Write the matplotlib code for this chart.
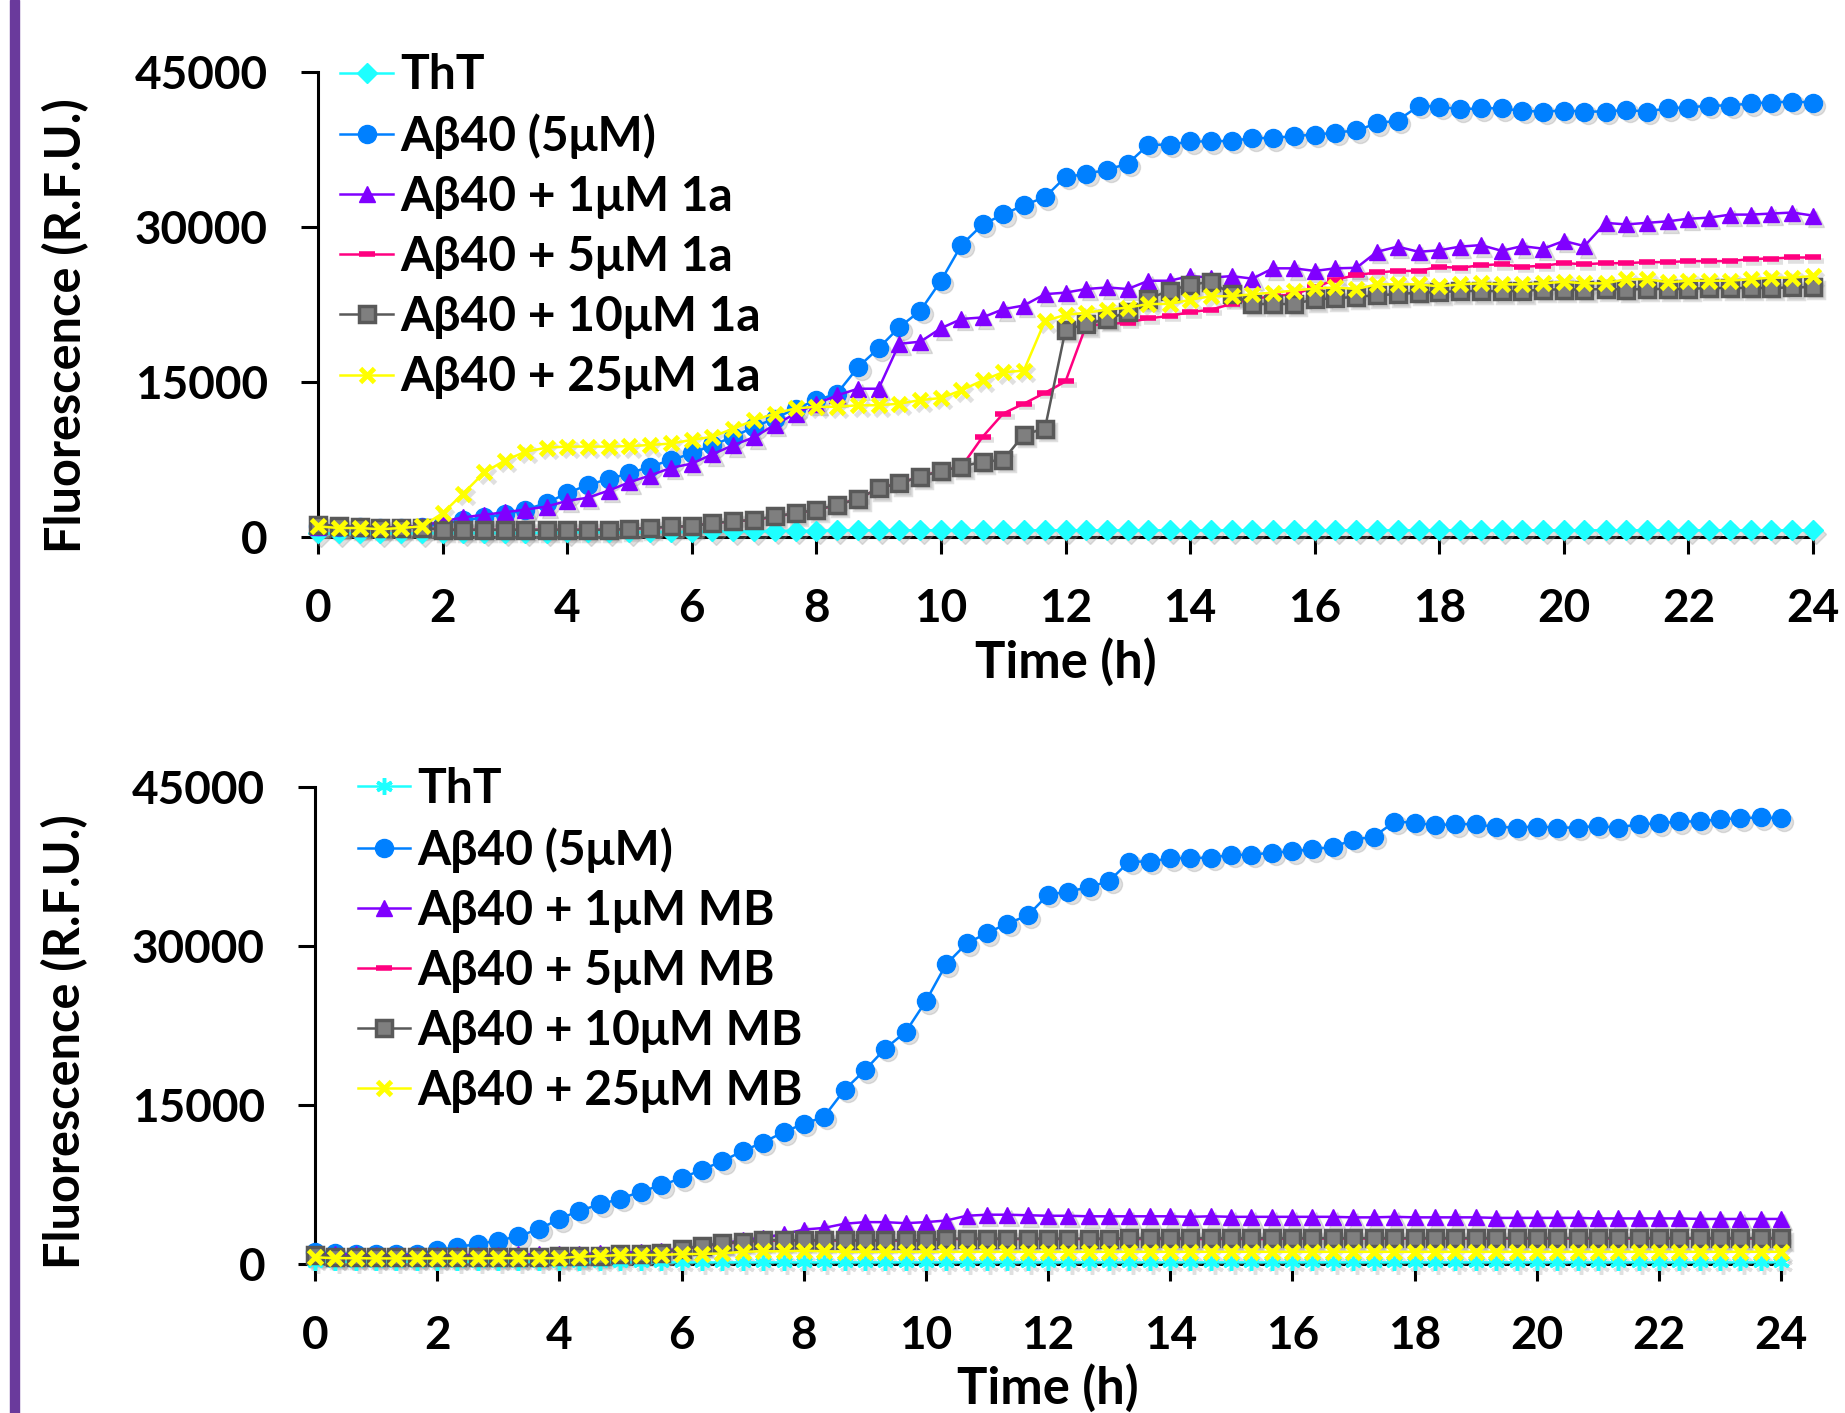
import matplotlib
matplotlib.use("Agg")
import matplotlib.pyplot as plt
from matplotlib.patches import Rectangle
from matplotlib.transforms import ScaledTranslation

plt.rcParams['font.family'] = ['Lato', 'Open Sans', 'DejaVu Sans']
plt.rcParams['font.weight'] = 'bold'

# sampling times (h), one reading every 20 min
hours = [0, 0.33, 0.67, 1, 1.33, 1.67, 2, 2.33, 2.67, 3, 3.33, 3.67,
         4, 4.33, 4.67, 5, 5.33, 5.67, 6, 6.33, 6.67, 7, 7.33, 7.67,
         8, 8.33, 8.67, 9, 9.33, 9.67, 10, 10.33, 10.67, 11, 11.33, 11.67,
         12, 12.33, 12.67, 13, 13.33, 13.67, 14, 14.33, 14.67, 15, 15.33, 15.67,
         16, 16.33, 16.67, 17, 17.33, 17.67, 18, 18.33, 18.67, 19, 19.33, 19.67,
         20, 20.33, 20.67, 21, 21.33, 21.67, 22, 22.33, 22.67, 23, 23.33, 23.67,
         24]

# Abeta40 alone (same control in both panels)
ab40 = [1100, 1000, 950, 900, 900, 950, 1300, 1600, 1900, 2200, 2630, 3300,
        4240, 5040, 5620, 6170, 6810, 7450, 8090, 8890, 9700, 10660, 11460, 12430,
        13230, 13870, 16440, 18270, 20290, 21900, 24790, 28260, 30250, 31210, 32110, 32880,
        34840, 35130, 35550, 36130, 37960, 37960, 38280, 38280, 38340, 38600, 38600, 38820,
        38920, 39140, 39340, 40040, 40300, 41710, 41650, 41390, 41490, 41490, 41230, 41170,
        41260, 41170, 41170, 41330, 41170, 41490, 41560, 41750, 41750, 41970, 42040, 42140,
        42040]

# ---- panel 1: compound 1a ----
tht_1a = [350, 350, 350, 350, 350, 350, 400, 400, 400, 400, 400, 400,
          450, 450, 450, 450, 500, 500, 500, 550, 550, 550, 600, 600,
          600, 650, 650, 650, 650, 650, 650, 650, 650, 650, 650, 650,
          650, 650, 650, 650, 650, 650, 650, 650, 650, 650, 650, 650,
          650, 650, 650, 650, 650, 650, 650, 650, 650, 650, 650, 650,
          650, 650, 650, 650, 650, 650, 650, 650, 650, 650, 650, 650,
          650]
a1_1 = [1000, 950, 900, 900, 950, 1100, 1500, 1900, 2150, 2400, 2650, 2950,
        3500, 3800, 4500, 5300, 5950, 6700, 7100, 8000, 8900, 9650, 10850, 11950,
        12900, 13700, 14350, 14350, 18700, 18900, 20200, 21100, 21250, 22050, 22400, 23500,
        23650, 24000, 24150, 24000, 24800, 24800, 25250, 25100, 25250, 25000, 26000, 26000,
        25750, 26000, 26050, 27600, 28100, 27600, 27750, 28100, 28250, 27700, 28150, 27900,
        28650, 28150, 30400, 30250, 30400, 30550, 30800, 30900, 31200, 31200, 31300, 31400,
        31100]
a1_5 = [1150, 1000, 950, 900, 900, 900, 700, 700, 700, 700, 700, 700,
        700, 700, 700, 800, 870, 1000, 1050, 1350, 1500, 1650, 1950, 2300,
        2600, 3100, 3700, 4700, 5200, 5850, 6400, 6800, 9700, 11950, 12900, 13950,
        15050, 20450, 20600, 20750, 21150, 21400, 21750, 22000, 22550, 23050, 23300, 23500,
        24150, 24900, 25350, 25600, 25750, 25750, 26150, 26050, 26300, 26400, 26150, 26250,
        26500, 26400, 26500, 26500, 26600, 26600, 26700, 26700, 26700, 26900, 26950, 27050,
        27050]
a1_10 = [1200, 1050, 950, 900, 900, 900, 700, 700, 700, 700, 700, 700,
         700, 700, 700, 800, 870, 1030, 1030, 1350, 1510, 1670, 2000, 2310,
         2630, 3100, 3690, 4720, 5200, 5840, 6390, 6810, 7290, 7450, 9900, 10500,
         20050, 20600, 21100, 21750, 23050, 23850, 24400, 24700, 23500, 22550, 22550, 22550,
         23000, 23100, 23250, 23400, 23500, 23650, 23700, 23800, 23800, 23800, 23800, 23950,
         23950, 23950, 24000, 23950, 24000, 24000, 24000, 24100, 24100, 24100, 24100, 24150,
         24200]
a1_25 = [1030, 870, 870, 750, 870, 1030, 2300, 4200, 6250, 7400, 8250, 8650,
         8750, 8750, 8750, 8800, 8900, 9050, 9400, 9700, 10500, 11300, 11950, 12450,
         12600, 12600, 12750, 12750, 12900, 13250, 13450, 14200, 15150, 15950, 16100, 20900,
         21500, 21700, 22000, 22200, 22550, 22550, 22950, 23300, 23300, 23500, 23650, 23850,
         24050, 24150, 24000, 24450, 24450, 24450, 24250, 24450, 24550, 24450, 24450, 24550,
         24700, 24550, 24550, 24950, 24950, 24650, 24800, 24800, 24800, 24950, 25100, 25100,
         25250]

# ---- panel 2: methylene blue ----
tht_mb = [200, 200, 200, 200, 200, 200, 200, 200, 200, 200, 200, 200,
          150, 150, 150, 150, 150, 150, 150, 150, 150, 150, 150, 150,
          150, 150, 150, 150, 150, 150, 150, 150, 150, 150, 150, 150,
          150, 150, 150, 150, 150, 150, 150, 150, 150, 150, 150, 150,
          150, 150, 150, 150, 150, 150, 150, 150, 150, 150, 150, 150,
          150, 150, 150, 150, 150, 150, 150, 150, 150, 150, 150, 150,
          150]
mb_1 = [950, 900, 900, 850, 850, 850, 850, 850, 850, 850, 900, 900,
        900, 950, 1000, 1050, 1150, 1250, 1450, 1700, 1950, 2250, 2500, 2800,
        3250, 3400, 3800, 3950, 3950, 3850, 3950, 4100, 4550, 4650, 4650, 4600,
        4550, 4550, 4500, 4500, 4500, 4500, 4500, 4450, 4500, 4450, 4450, 4450,
        4450, 4450, 4450, 4400, 4400, 4450, 4400, 4400, 4400, 4400, 4350, 4350,
        4350, 4350, 4350, 4300, 4300, 4300, 4300, 4300, 4250, 4250, 4250, 4250,
        4250]
mb_5 = [800, 650, 650, 650, 650, 650, 650, 650, 650, 650, 650, 650,
        700, 700, 750, 850, 900, 1000, 1400, 1650, 1900, 2050, 2200, 2200,
        2200, 2200, 2200, 2200, 2200, 2200, 2200, 2350, 2350, 2350, 2350, 2350,
        2350, 2350, 2350, 2350, 2350, 2350, 2350, 2350, 2350, 2350, 2350, 2350,
        2400, 2400, 2400, 2400, 2400, 2400, 2400, 2400, 2400, 2400, 2400, 2400,
        2400, 2400, 2400, 2400, 2400, 2400, 2400, 2400, 2400, 2400, 2400, 2400,
        2400]
mb_10 = [850, 700, 700, 700, 700, 700, 700, 700, 700, 700, 700, 700,
         750, 750, 800, 900, 950, 1050, 1450, 1700, 1950, 2100, 2250, 2250,
         2250, 2250, 2250, 2250, 2250, 2250, 2250, 2400, 2400, 2400, 2400, 2400,
         2400, 2400, 2400, 2400, 2450, 2450, 2450, 2450, 2450, 2450, 2450, 2450,
         2450, 2450, 2450, 2450, 2450, 2450, 2450, 2450, 2450, 2450, 2450, 2450,
         2450, 2450, 2450, 2450, 2450, 2450, 2450, 2450, 2450, 2450, 2450, 2450,
         2450]
mb_25 = [630, 550, 550, 530, 530, 530, 530, 530, 530, 550, 550, 550,
         550, 690, 750, 850, 850, 850, 940, 940, 1000, 1150, 1200, 1200,
         1250, 1200, 1150, 1150, 1150, 1150, 1150, 1150, 1150, 1150, 1150, 1150,
         1150, 1150, 1150, 1150, 1150, 1150, 1150, 1150, 1150, 1150, 1150, 1150,
         1150, 1150, 1150, 1150, 1150, 1150, 1150, 1150, 1150, 1150, 1150, 1150,
         1150, 1150, 1150, 1150, 1150, 1150, 1150, 1150, 1150, 1150, 1150, 1150,
         1150]

labels_1a = ['ThT', 'Aβ40 (5μM)', 'Aβ40 + 1μM 1a', 'Aβ40 + 5μM 1a',
             'Aβ40 + 10μM 1a', 'Aβ40 + 25μM 1a']
labels_mb = ['ThT', 'Aβ40 (5μM)', 'Aβ40 + 1μM MB', 'Aβ40 + 5μM MB',
             'Aβ40 + 10μM MB', 'Aβ40 + 25μM MB']

styles = [
    dict(color='#1EFFFF', marker='D', ms=10),
    dict(color='#0080FF', marker='o', ms=13),
    dict(color='#8000FF', marker='^', ms=11.5),
    dict(color='#FF0080', marker='_', ms=12, mew=4),
    dict(color='#595959', marker='s', ms=11, mfc='#7F7F7F', mec='#595959', mew=2.5),
    dict(color='#FFFF00', marker='x', ms=10, mew=3.5),
]
tht_mb_style = dict(color='#1EFFFF', marker=(6, 2, 0), ms=12, mew=2.5)

FS = 33
LEG_FS = 34.5


def draw_panel(ax, series, labels, tht_style, legend_x, legend_y):
    shadow = ax.transData + ScaledTranslation(2.5 / 72, -2.5 / 72, fig.dpi_scale_trans)
    for k, (y, lab) in enumerate(zip(series, labels)):
        st = dict(styles[k])
        if k == 0:
            st = dict(tht_style)
        # soft drop shadow under the markers
        ax.plot(hours, y, linestyle='none', marker=st['marker'], ms=st['ms'],
                color='#9a9a9a', alpha=0.3, mew=st.get('mew', 1), transform=shadow,
                clip_on=False, zorder=2 + k * 0.1)
        ax.plot(hours, y, lw=1.8, label=lab, clip_on=False, zorder=3 + k * 0.1, **st)

    ax.set_xlim(0, 24)
    ax.set_ylim(0, 45000)
    ax.set_xticks(range(0, 25, 2))
    ax.set_yticks([0, 15000, 30000, 45000])
    ax.spines['top'].set_visible(False)
    ax.spines['right'].set_visible(False)
    for s in ('left', 'bottom'):
        ax.spines[s].set_linewidth(2.2)
        ax.spines[s].set_zorder(1)
    ax.tick_params(axis='both', direction='out', length=12, width=2.2,
                   labelsize=FS)
    ax.tick_params(axis='x', pad=25)
    ax.tick_params(axis='y', pad=24)
    ax.set_xlabel('Time (h)', fontsize=36.5, fontweight='bold')
    ax.set_ylabel('Fluorescence (R.F.U.)', fontsize=35, fontweight='bold')
    leg = ax.legend(loc='upper left', bbox_to_anchor=(legend_x, legend_y), frameon=False,
                    fontsize=LEG_FS, borderaxespad=0, borderpad=0, labelspacing=0.335,
                    handlelength=1.1, handletextpad=0.15, numpoints=1)
    for t in leg.get_texts():
        t.set_fontweight('bold')
    return ax


fig = plt.figure(figsize=(18.45, 14.13), dpi=100)
ax1 = fig.add_axes([318 / 1845, 1 - 537 / 1413, 1495 / 1845, 465 / 1413])
ax2 = fig.add_axes([315 / 1845, 1 - 1264 / 1413, 1466 / 1845, 477 / 1413])

draw_panel(ax1, [tht_1a, ab40, a1_1, a1_5, a1_10, a1_25], labels_1a, styles[0],
           0.015, 1.04)
draw_panel(ax2, [tht_mb, ab40, mb_1, mb_5, mb_10, mb_25], labels_mb, tht_mb_style,
           0.029, 1.042)

ax1.xaxis.set_label_coords(0.5, -0.269)
ax2.xaxis.set_label_coords(0.5, -0.26)
ax1.yaxis.set_label_coords(-0.169, 0.454)
ax2.yaxis.set_label_coords(-0.1705, 0.467)
for ax in (ax1, ax2):
    ax.xaxis.label.set_va('center')
    ax.yaxis.label.set_va('center')

# purple bar along the left edge
fig.patches.append(Rectangle((10 / 1845, 0), 9 / 1845, 1, transform=fig.transFigure,
                             color='#6A3A9C', zorder=0))

fig.savefig('out.png', dpi=100)
